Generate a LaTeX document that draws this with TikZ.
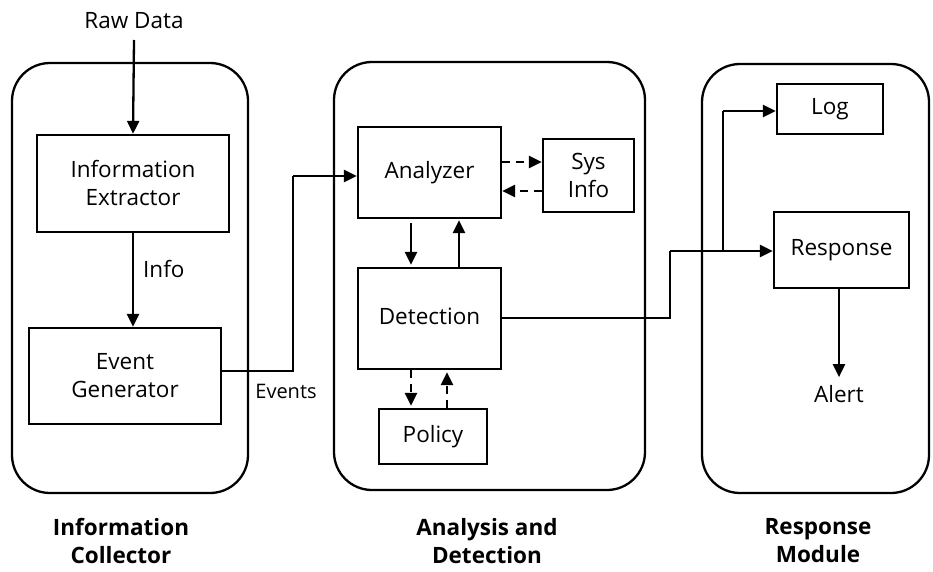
\documentclass[tikz,border=0pt]{standalone}
\usepackage{fontspec}
\setmainfont{Open Sans}
\usetikzlibrary{arrows.meta,calc}
\begin{document}
\begin{tikzpicture}[x=1pt,y=-1pt,
  lw/.style={line width=2.3pt},
  box/.style={draw,lw,rectangle,inner sep=0pt,align=center,font=\fontsize{22.5}{28}\selectfont},
  cont/.style={draw,lw,rounded corners=38pt},
  lbl/.style={inner sep=0pt,align=center,font=\fontsize{22.5}{28}\selectfont},
  ttl/.style={inner sep=0pt,align=center,font=\fontsize{22.5}{28}\selectfont\bfseries},
  arr/.style={lw,-{Triangle[length=13pt,width=12pt]}},
  darr/.style={arr,dash pattern=on 8pt off 6pt}]
\useasboundingbox (0,0) rectangle (933,572);
% containers
\draw[cont] (12,63) rectangle (248,493);
\draw[cont] (334,62) rectangle (645,490);
\draw[cont] (702,64) rectangle (929,493);
% nodes
\node[lbl] (raw) at (134,21) {Raw Data};
\node[box,minimum width=192pt,minimum height=97pt] (ie) at (133,183.5) {Information\\Extractor};
\node[lbl,anchor=west] (info) at (143,269) {Info};
\node[box,minimum width=192pt,minimum height=96pt] (eg) at (125,376) {Event\\Generator};
\node[lbl,font=\fontsize{20}{24}\selectfont] (events) at (286,391) {Events};
\node[box,minimum width=143pt,minimum height=91pt] (an) at (429.5,172.5) {Analyzer};
\node[box,minimum width=91pt,minimum height=73pt] (sys) at (588.5,175.5) {Sys\\Info};
\node[box,minimum width=143pt,minimum height=101pt,text depth=0pt] (det) at (429.5,318.5) {};
\node[lbl] (dettext) at (429.5,316) {Detection};
\node[box,minimum width=108pt,minimum height=55pt] (pol) at (433,436.5) {Policy};
\node[box,minimum width=106pt,minimum height=50pt] (log) at (830,109) {Log};
\node[box,minimum width=135pt,minimum height=76pt] (resp) at (841.5,250) {Response};
\node[lbl] (alert) at (839,394) {Alert};
\node[ttl] (t1) at (121,541) {Information\\Collector};
\node[ttl] (t2) at (487,541) {Analysis and\\Detection};
\node[ttl] (t3) at (818,541) {Response\\Module};
% coordinates
\coordinate (e1) at (293,371);
\coordinate (e2) at (293,176);
\coordinate (d1) at (670,318);
\coordinate (d2) at (670,251);
\coordinate (b1) at (723,251);
\coordinate (b2) at (723,111);
% connectors
\draw[arr] (raw.south |- 0,40) -- (ie.north);
\draw[arr] (ie.south) -- (eg.north -| ie.south);
\draw[lw,line join=miter] (eg.east |- e1) -- (e1) -- (e2);
\draw[arr] (e2) -- (an.west |- e2);
\draw[darr] (an.east |- 0,162) -- (sys.west |- 0,162);
\draw[darr] (sys.west |- 0,191) -- (an.east |- 0,191);
\draw[arr] ($(an.south -| 411,0)+(0,4)$) -- ($(det.north -| 411,0)+(0,-2)$);
\draw[arr] (det.north -| 459,0) -- ($(an.south -| 459,0)+(0,1)$);
\draw[darr] (det.south -| 411,0) -- ($(pol.north -| 411,0)+(0,-2)$);
\draw[darr] (pol.north -| 447,0) -- ($(det.south -| 447,0)+(0,2)$);
\draw[lw] (det.east |- d1) -- (d1) -- (d2);
\draw[arr] (d2) -- (resp.west |- d2);
\draw[lw] (b1) -- (b2);
\draw[arr] (b2) -- (log.west |- b2);
\draw[arr] (resp.south -| alert.north) -- ($(alert.north)+(0,-8)$);
\end{tikzpicture}
\end{document}
